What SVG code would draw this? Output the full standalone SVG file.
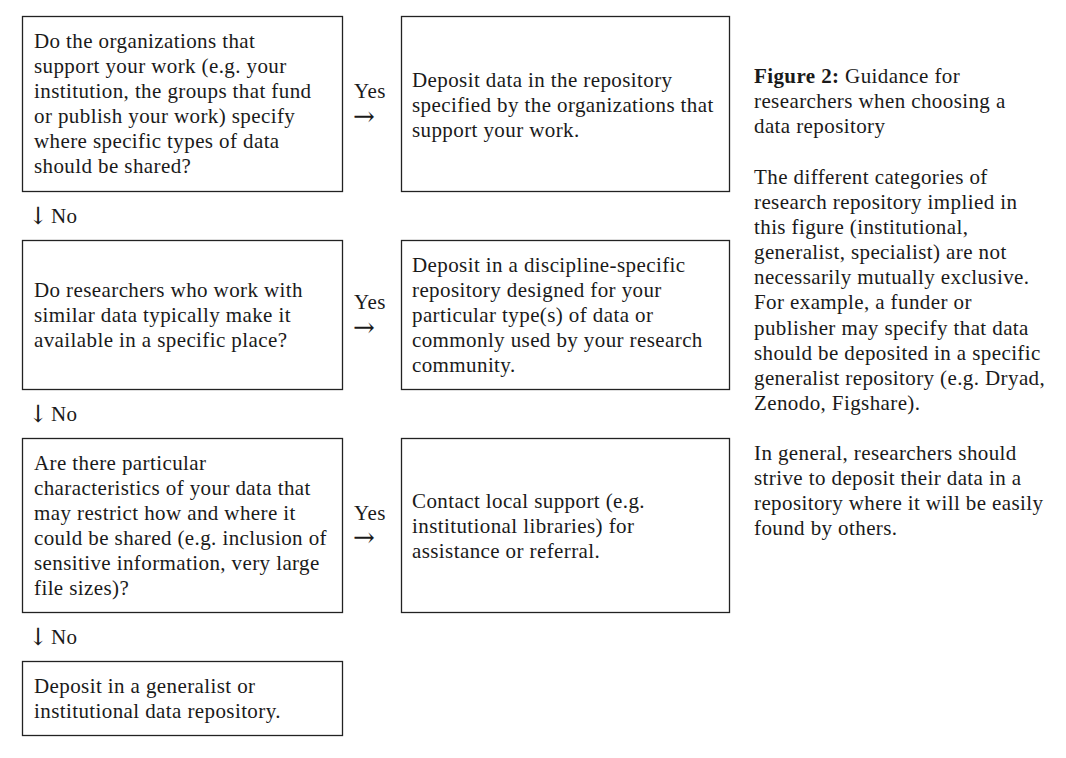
<svg xmlns="http://www.w3.org/2000/svg" width="1066" height="758" viewBox="0 0 1066 758">
<style>
text{font-family:"Liberation Serif","DejaVu Serif",serif;font-size:21px;letter-spacing:0.4px;fill:#1a1a1a}
.b{fill:#fff;stroke:#222;stroke-width:1.3}
.bold{font-weight:bold}
.ar{font-family:"DejaVu Serif",serif;font-size:26px;letter-spacing:0;font-weight:200}
.dn{font-family:"DejaVu Serif",serif;font-size:24px;letter-spacing:0}
</style>
<rect width="1066" height="758" fill="#fff"/>
<g id="q1">
<rect class="b" x="22.5" y="16.5" width="320" height="175"/>
<text x="34" y="48">Do the organizations that</text>
<text x="34" y="73">support your work (e.g. your</text>
<text x="34" y="98">institution, the groups that fund</text>
<text x="34" y="123">or publish your work) specify</text>
<text x="34" y="148">where specific types of data</text>
<text x="34" y="173">should be shared?</text>
</g>
<g id="a1">
<rect class="b" x="401.5" y="16.5" width="328" height="175"/>
<text x="412" y="87">Deposit data in the repository</text>
<text x="412" y="112">specified by the organizations that</text>
<text x="412" y="137">support your work.</text>
</g>
<g id="q2">
<rect class="b" x="22.5" y="240.5" width="320" height="149"/>
<text x="34" y="297">Do researchers who work with</text>
<text x="34" y="322">similar data typically make it</text>
<text x="34" y="347">available in a specific place?</text>
</g>
<g id="a2">
<rect class="b" x="401.5" y="240.5" width="328" height="149"/>
<text x="412" y="272">Deposit in a discipline-specific</text>
<text x="412" y="297">repository designed for your</text>
<text x="412" y="322">particular type(s) of data or</text>
<text x="412" y="347">commonly used by your research</text>
<text x="412" y="372">community.</text>
</g>
<g id="q3">
<rect class="b" x="22.5" y="438.5" width="320" height="174"/>
<text x="34" y="470">Are there particular</text>
<text x="34" y="495">characteristics of your data that</text>
<text x="34" y="520">may restrict how and where it</text>
<text x="34" y="545">could be shared (e.g. inclusion of</text>
<text x="34" y="570">sensitive information, very large</text>
<text x="34" y="595">file sizes)?</text>
</g>
<g id="a3">
<rect class="b" x="401.5" y="438.5" width="328" height="174"/>
<text x="412" y="508">Contact local support (e.g.</text>
<text x="412" y="533">institutional libraries) for</text>
<text x="412" y="558">assistance or referral.</text>
</g>
<g id="a4">
<rect class="b" x="22.5" y="661.5" width="320" height="74"/>
<text x="34" y="693">Deposit in a generalist or</text>
<text x="34" y="718">institutional data repository.</text>
</g>
<g id="connectors">
<text x="354" y="98">Yes</text>
<text class="ar" x="353" y="125">→</text>
<text x="354" y="309">Yes</text>
<text class="ar" x="353" y="336">→</text>
<text x="354" y="520">Yes</text>
<text class="ar" x="353" y="546">→</text>
<text class="dn" x="28" y="224">↓</text><text x="51" y="223">No</text>
<text class="dn" x="28" y="422">↓</text><text x="51" y="421">No</text>
<text class="dn" x="28" y="645">↓</text><text x="51" y="644">No</text>
</g>
<g id="caption">
<text x="754" y="83"><tspan class="bold">Figure 2:</tspan> Guidance for</text>
<text x="754" y="108">researchers when choosing a</text>
<text x="754" y="133">data repository</text>
<text x="754" y="184">The different categories of</text>
<text x="754" y="209">research repository implied in</text>
<text x="754" y="234">this figure (institutional,</text>
<text x="754" y="259">generalist, specialist) are not</text>
<text x="754" y="284">necessarily mutually exclusive.</text>
<text x="754" y="309">For example, a funder or</text>
<text x="754" y="335">publisher may specify that data</text>
<text x="754" y="360">should be deposited in a specific</text>
<text x="754" y="385">generalist repository (e.g. Dryad,</text>
<text x="754" y="410">Zenodo, Figshare).</text>
<text x="754" y="460">In general, researchers should</text>
<text x="754" y="485">strive to deposit their data in a</text>
<text x="754" y="510">repository where it will be easily</text>
<text x="754" y="535">found by others.</text>
</g>
</svg>
